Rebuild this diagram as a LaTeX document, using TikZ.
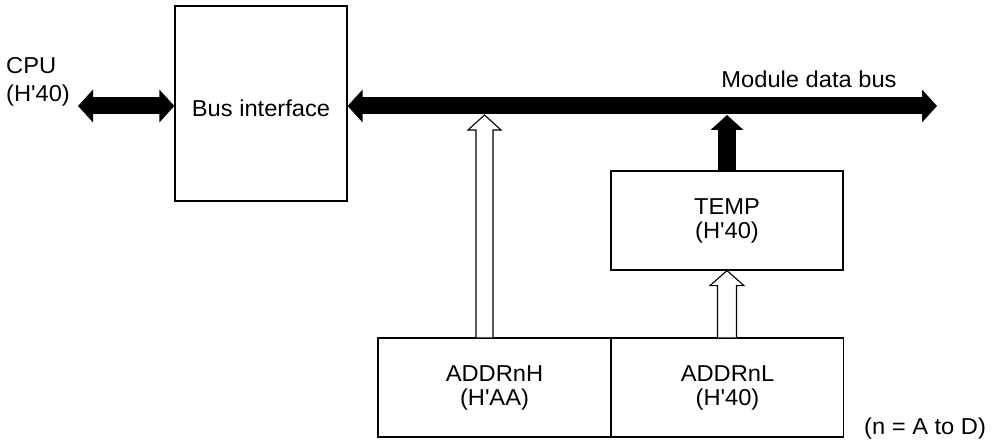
\documentclass[tikz,border=0pt]{standalone}
\usepackage{fontspec}
\setmainfont{Liberation Sans}[FakeStretch=1.03]
\usetikzlibrary{arrows.meta,calc}
\newcommand{\aq}{\textquotesingle}
\begin{document}
\begin{tikzpicture}[x=1pt,y=-1pt,
  box/.style={draw=black,line width=1.2pt,fill=white,inner sep=0pt,align=center,
    font=\fontsize{23}{24}\selectfont},
  lbl/.style={inner sep=0pt,font=\fontsize{23}{24}\selectfont},
  fatbus/.style={line width=17pt,{Triangle[width=32pt,length=15pt]}-{Triangle[width=32pt,length=15pt]}},
  fatup/.style={line width=18pt,-{Triangle[width=32pt,length=15pt]}},
  hollow/.style={draw=black,line width=1.1pt,fill=white,line join=miter}]
\useasboundingbox (0,0) rectangle (998,446);
% boxes
\node[box,minimum width=172pt,minimum height=195pt] (bi) at (261,103.5) {};
\node[lbl] (bitext) at (261,108.5) {Bus interface};
\node[box,minimum width=232pt,minimum height=99pt] (temp) at (727,220.5) {TEMP\\(H\aq 40)};
\node[box,minimum width=233pt,minimum height=99pt] (ah) at (494.5,387.5) {ADDRnH\\(H\aq AA)};
\node[box,minimum width=232pt,minimum height=99pt] (al) at (727.5,387.5) {ADDRnL\\(H\aq 40)};
% texts
\node[lbl,anchor=base west,align=left,font=\fontsize{23}{28}\selectfont] (cpu) at (6,102) {CPU\\(H\aq 40)};
\node[lbl,anchor=base] (mdb) at (809,88) {Module data bus};
\node[lbl,anchor=base west] (nnote) at (864,434) {(n = A to D)};
% coordinates
\coordinate (cpuL) at (78,106);
\coordinate (busR) at (937,106);
\coordinate (busbot) at (0,115);
% CPU bus
\draw[fatbus] (cpuL) -- (cpuL -| bi.west);
% module data bus
\draw[fatbus] (bi.east |- busR) -- (busR);
% TEMP -> bus
\draw[fatup] (temp.north) -- (temp.north |- busbot);
% ADDRnH -> bus (hollow)
\coordinate (hb) at ($(ah.north)+(-10,0)$);
\coordinate (ht) at (hb |- busbot);
\draw[hollow] ($(hb)+(-8.5,0)$) -- ($(ht)+(-8.5,15)$) -- ($(ht)+(-16.5,15)$) -- (ht)
  -- ($(ht)+(16.5,15)$) -- ($(ht)+(8.5,15)$) -- ($(hb)+(8.5,0)$);
% ADDRnL -> TEMP (hollow)
\coordinate (lb) at (al.north -| temp.south);
\coordinate (lt) at (temp.south);
\draw[hollow] ($(lb)+(-9.5,0)$) -- ($(lt)+(-9.5,15)$) -- ($(lt)+(-17,15)$) -- (lt)
  -- ($(lt)+(17,15)$) -- ($(lt)+(9.5,15)$) -- ($(lb)+(9.5,0)$);
\end{tikzpicture}
\end{document}
